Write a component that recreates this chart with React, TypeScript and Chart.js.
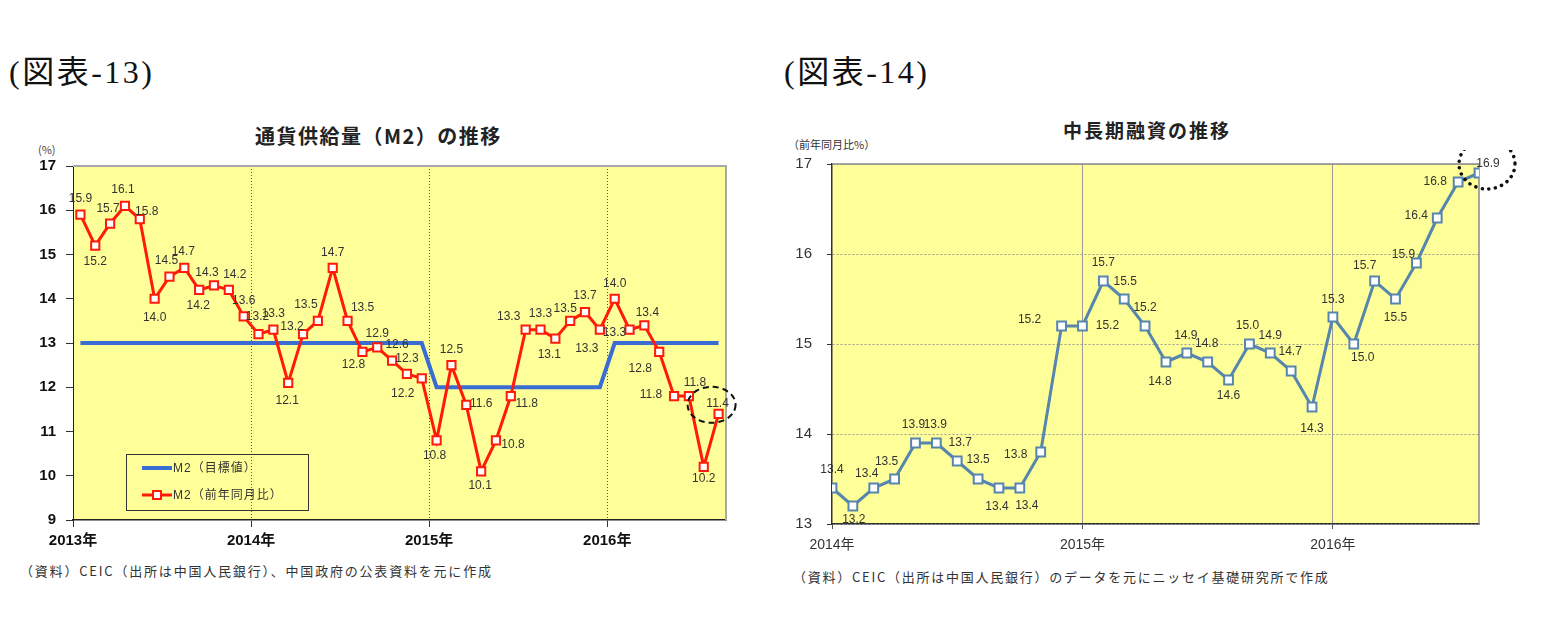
import React, { useEffect, useRef } from "react";
import { Chart, registerables } from "chart.js";

Chart.register(...registerables);

// ---------- 図表-13 通貨供給量（M2）の推移 : monthly 2013/1 – 2016/8 ----------
const m2Years = ["2013年", "2014年", "2015年", "2016年"];
const m2Growth = [
  15.9, 15.2, 15.7, 16.1, 15.8, 14.0, 14.5, 14.7, 14.2, 14.3, 14.2, 13.6,
  13.2, 13.3, 12.1, 13.2, 13.5, 14.7, 13.5, 12.8, 12.9, 12.6, 12.3, 12.2,
  10.8, 12.5, 11.6, 10.1, 10.8, 11.8, 13.3, 13.3, 13.1, 13.5, 13.7, 13.3,
  14.0, 13.3, 13.4, 12.8, 11.8, 11.8, 10.2, 11.4,
];
const m2Target = [
  13, 13, 13, 13, 13, 13, 13, 13, 13, 13, 13, 13,
  13, 13, 13, 13, 13, 13, 13, 13, 13, 13, 13, 13,
  12, 12, 12, 12, 12, 12, 12, 12, 12, 12, 12, 12,
  13, 13, 13, 13, 13, 13, 13, 13,
];
// value-label placement (dx, dy from the marker), kept apart from the values
const m2LabelOffsets: [number, number][] = [
  [0, -16], [0, 16], [-2, -15], [-2, -16], [7, -7], [0, 19], [-3, -16], [-1, -16], [-1, 16], [-7, -13], [6, -15], [0, -16],
  [-1, -17], [0, -16], [-1, 18], [-11, -7], [-12, -16], [0, -15], [15, -13], [-9, 13], [0, -14], [5, -16], [0, -15], [-19, 15],
  [-2, 15], [0, -15], [15, -1], [-1, 14], [17, 4], [16, 8], [-17, -13], [0, -16], [-6, 16], [-5, -12], [0, -16], [-13, 19],
  [0, -15], [-15, 3], [3, -13], [-19, 17], [-23, -1], [6, -13], [0, 12], [-1, -10],
];
const m2LegendLabels = ["M2（目標値）", "M2（前年同月比）"];

// ---------- 図表-14 中長期融資の推移 : monthly 2014/1 – 2016/8 ----------
const loanYears = ["2014年", "2015年", "2016年"];
const loanGrowth = [
  13.4, 13.2, 13.4, 13.5, 13.9, 13.9, 13.7, 13.5, 13.4, 13.4, 13.8, 15.2,
  15.2, 15.7, 15.5, 15.2, 14.8, 14.9, 14.8, 14.6, 15.0, 14.9, 14.7, 14.3,
  15.3, 15.0, 15.7, 15.5, 15.9, 16.4, 16.8, 16.9,
];
const loanLabelOffsets: [number, number][] = [
  [0, -18], [1, 14], [-7, -14], [-8, -17], [-2, -18], [-1, -18], [3, -18], [0, -19], [-2, 19], [7, 18], [-25, 3], [-32, -6],
  [25, 0], [0, -18], [1, -17], [0, -18], [-6, 20], [-1, -17], [-1, -18], [0, 16], [-2, -18], [0, -17], [-1, -19], [0, 22],
  [0, -17], [9, 14], [-10, -15], [0, 19], [-13, -8], [-21, -2], [-23, 0], [9, -9],
];

// ---------- styles ----------
const YELLOW = "#FFFF99";
const RED = "#FF1A0A";
const BLUE = "#3A6DD4";
const STEEL = "#5685AD";
const SANS = '"Liberation Sans", "Noto Sans CJK JP", sans-serif';
const JP = '"Noto Sans CJK JP", "Liberation Sans", sans-serif';

const plotFrame = (bg: string, frame: string, frameWidth: number) => ({
  id: "plotFrame",
  beforeDraw(chart: any) {
    const { ctx, chartArea: a } = chart;
    ctx.save();
    ctx.fillStyle = bg;
    ctx.fillRect(a.left, a.top, a.right - a.left, a.bottom - a.top);
    ctx.restore();
  },
  beforeDatasetsDraw(chart: any) {
    const { ctx, chartArea: a } = chart;
    ctx.save();
    ctx.strokeStyle = frame;
    ctx.lineWidth = frameWidth;
    ctx.beginPath();
    ctx.moveTo(a.left, a.top);
    ctx.lineTo(a.right, a.top);
    ctx.lineTo(a.right, a.bottom);
    ctx.stroke();
    ctx.restore();
  },
});

const valueLabels = (datasetIndex: number, offsets: [number, number][], font: string, color: string) => ({
  id: "valueLabels",
  afterDatasetsDraw(chart: any) {
    const { ctx } = chart;
    const meta = chart.getDatasetMeta(datasetIndex);
    const data = chart.data.datasets[datasetIndex].data;
    ctx.save();
    ctx.font = font;
    ctx.fillStyle = color;
    ctx.textAlign = "center";
    ctx.textBaseline = "middle";
    meta.data.forEach((el: any, i: number) => {
      const [dx, dy] = offsets[i] || [0, -15];
      ctx.fillText(Number(data[i].y).toFixed(1), el.x + dx, el.y + dy);
    });
    ctx.restore();
  },
});

const highlightLast = (
  datasetIndex: number,
  dx: number,
  dy: number,
  rx: number,
  ry: number,
  dash: number[],
  width: number,
  cap: CanvasLineCap
) => ({
  id: "highlightLast",
  afterDatasetsDraw(chart: any) {
    const { ctx } = chart;
    const meta = chart.getDatasetMeta(datasetIndex);
    const el = meta.data[meta.data.length - 1];
    ctx.save();
    ctx.strokeStyle = "#111";
    ctx.lineWidth = width;
    ctx.lineCap = cap;
    ctx.setLineDash(dash);
    ctx.beginPath();
    ctx.ellipse(el.x + dx, el.y + dy, rx, ry, 0, 0, Math.PI * 2);
    ctx.stroke();
    ctx.restore();
  },
});

const boxLegend = {
  id: "boxLegend",
  afterDatasetsDraw(chart: any) {
    const { ctx, chartArea: a } = chart;
    const x = a.left + 53;
    const y = a.bottom - 66;
    const w = 182;
    const h = 56;
    ctx.save();
    ctx.strokeStyle = "#333";
    ctx.lineWidth = 1;
    ctx.strokeRect(x + 0.5, y + 0.5, w, h);
    const y1 = y + 14;
    const y2 = y + 41;
    ctx.strokeStyle = BLUE;
    ctx.lineWidth = 4;
    ctx.beginPath();
    ctx.moveTo(x + 16, y1);
    ctx.lineTo(x + 46, y1);
    ctx.stroke();
    ctx.strokeStyle = RED;
    ctx.lineWidth = 3;
    ctx.beginPath();
    ctx.moveTo(x + 16, y2);
    ctx.lineTo(x + 46, y2);
    ctx.stroke();
    ctx.fillStyle = "#fff";
    ctx.lineWidth = 2;
    ctx.fillRect(x + 27, y2 - 4, 8, 8);
    ctx.strokeRect(x + 27, y2 - 4, 8, 8);
    ctx.fillStyle = "#333";
    ctx.font = `12px ${SANS}`;
    ctx.textBaseline = "middle";
    ctx.textAlign = "left";
    (ctx as any).letterSpacing = "1px";
    ctx.fillText(m2LegendLabels[0], x + 47, y1 + 1);
    ctx.fillText(m2LegendLabels[1], x + 47, y2 + 1);
    ctx.restore();
  },
};

const noScalePadding = (s: any) => {
  s.paddingTop = 0;
  s.paddingBottom = 0;
  s.paddingLeft = 0;
  s.paddingRight = 0;
};

function ChartCanvas({ left, top, width, height, build }: { left: number; top: number; width: number; height: number; build: () => any }) {
  const ref = useRef<HTMLCanvasElement | null>(null);
  useEffect(() => {
    if (!ref.current) return;
    const chart = new Chart(ref.current, build());
    return () => chart.destroy();
  }, []);
  return (
    <canvas
      ref={ref}
      width={width}
      height={height}
      style={{ position: "absolute", left, top, width, height }}
    />
  );
}

function buildM2() {
  const growth = m2Growth.map((v, i) => ({ x: i + 0.5, y: v }));
  const target = m2Target.map((v, i) => ({ x: i + 0.5, y: v }));
  return {
    type: "line",
    data: {
      datasets: [
        {
          label: m2LegendLabels[1],
          data: growth,
          borderColor: RED,
          borderWidth: 3,
          pointStyle: "rect",
          pointRadius: 5.8,
          pointBackgroundColor: "#fff",
          pointBorderColor: RED,
          pointBorderWidth: 2,
          tension: 0,
        },
        {
          label: m2LegendLabels[0],
          data: target,
          borderColor: BLUE,
          borderWidth: 4,
          pointRadius: 0,
          tension: 0,
        },
      ],
    },
    options: {
      animation: false,
      responsive: false,
      devicePixelRatio: 1,
      layout: { padding: { left: 0, right: 14, top: 16, bottom: 0 } },
      plugins: { legend: { display: false }, tooltip: { enabled: false } },
      scales: {
        x: {
          type: "linear",
          min: 0,
          max: m2Growth.length,
          afterBuildTicks: (s: any) => {
            s.ticks = m2Years.map((_, i) => ({ value: i * 12 }));
          },
          afterFit: (s: any) => {
            s.height = 30;
            noScalePadding(s);
          },
          ticks: {
            autoSkip: false,
            maxRotation: 0,
            padding: 5,
            color: "#111",
            font: { size: 15, weight: "bold", family: SANS },
            callback: (_v: any, i: number) => m2Years[i],
          },
          grid: {
            color: (c: any) => (c.tick && c.tick.value === 0 ? "rgba(0,0,0,0)" : "#555"),
            lineWidth: 1,
            tickLength: 7,
            tickColor: "#333",
          },
          border: { color: "#222", width: 1.5, dash: [1, 2] },
        },
        y: {
          min: 9,
          max: 17,
          afterFit: (s: any) => {
            s.width = 73;
            noScalePadding(s);
          },
          ticks: {
            stepSize: 1,
            padding: 10,
            color: "#111",
            font: { size: 15, weight: "bold", family: SANS },
          },
          grid: { drawOnChartArea: false, tickLength: 7, tickColor: "#333" },
          border: { color: "#222", width: 1 },
        },
      },
    },
    plugins: [
      plotFrame(YELLOW, "#A8A8A8", 2),
      valueLabels(0, m2LabelOffsets, `12px ${SANS}`, "#333"),
      highlightLast(0, -7, -9, 24, 18, [6, 4], 2, "butt"),
      boxLegend,
    ],
  };
}

function buildLoan() {
  const growth = loanGrowth.map((v, i) => ({ x: i, y: v }));
  return {
    type: "line",
    data: {
      datasets: [
        {
          label: "中長期融資",
          data: growth,
          borderColor: STEEL,
          borderWidth: 3,
          pointStyle: "rect",
          pointRadius: 6.2,
          pointBackgroundColor: "#fff",
          pointBorderColor: STEEL,
          pointBorderWidth: 2,
          tension: 0,
        },
      ],
    },
    options: {
      animation: false,
      responsive: false,
      devicePixelRatio: 1,
      layout: { padding: { left: 0, right: 71, top: 14, bottom: 0 } },
      plugins: { legend: { display: false }, tooltip: { enabled: false } },
      scales: {
        x: {
          type: "linear",
          min: 0,
          max: loanGrowth.length - 1,
          afterBuildTicks: (s: any) => {
            s.ticks = loanYears.map((_, i) => ({ value: i * 12 }));
          },
          afterFit: (s: any) => {
            s.height = 36;
            noScalePadding(s);
          },
          ticks: {
            autoSkip: false,
            maxRotation: 0,
            padding: 8,
            color: "#333",
            font: { size: 14, family: SANS },
            callback: (_v: any, i: number) => loanYears[i],
          },
          grid: {
            color: (c: any) => (c.tick && c.tick.value === 0 ? "rgba(0,0,0,0)" : "#999"),
            lineWidth: 1,
            tickLength: 5,
            tickColor: "#555",
          },
          border: { color: "#333", width: 1.5 },
        },
        y: {
          min: 13,
          max: 17,
          afterFit: (s: any) => {
            s.width = 62;
            noScalePadding(s);
          },
          ticks: {
            stepSize: 1,
            padding: 15,
            color: "#333",
            font: { size: 15, family: SANS },
          },
          grid: { color: "#9A9A9A", lineWidth: 1, tickLength: 5, tickColor: "#333" },
          border: { color: "#333", width: 1.5, dash: [2, 2] },
        },
      },
    },
    plugins: [
      plotFrame(YELLOW, "#8A8A8A", 1.5),
      valueLabels(0, loanLabelOffsets, `12px ${SANS}`, "#333"),
      highlightLast(0, 8, -9, 28, 25, [0.1, 6.5], 3.5, "round"),
    ],
  };
}

const abs = (extra: React.CSSProperties): React.CSSProperties => ({
  position: "absolute",
  whiteSpace: "nowrap",
  lineHeight: 1,
  color: "#111",
  ...extra,
});

const SERIF = '"Liberation Serif", "Noto Sans CJK JP", serif';

export default function App() {
  return (
    <div
      style={{
        position: "absolute",
        left: 0,
        top: 0,
        width: 1552,
        height: 622,
        background: "#fff",
        overflow: "hidden",
      }}
    >
      <div style={abs({ left: 9, top: 56, fontSize: 32, letterSpacing: 2.5, fontFamily: SERIF })}>(図表-13)</div>
      <div style={abs({ left: 784, top: 56, fontSize: 32, letterSpacing: 2.5, fontFamily: SERIF })}>(図表-14)</div>

      <div style={abs({ left: 255, top: 126, fontSize: 20, fontWeight: "bold", letterSpacing: 1.5, fontFamily: JP, color: "#222" })}>
        通貨供給量（M2）の推移
      </div>
      <div style={abs({ left: 38, top: 144, fontSize: 11, fontFamily: JP, color: "#444" })}>(%)</div>

      <div style={abs({ left: 1063, top: 120, fontSize: 19, fontWeight: "bold", letterSpacing: 2, fontFamily: JP, color: "#222" })}>
        中長期融資の推移
      </div>
      <div style={abs({ left: 788, top: 139, fontSize: 11, fontFamily: JP, color: "#333" })}>（前年同月比%）</div>

      <ChartCanvas left={0} top={150} width={740} height={400} build={buildM2} />
      <ChartCanvas left={770} top={150} width={780} height={410} build={buildLoan} />

      <div style={abs({ left: 20, top: 564, fontSize: 13, letterSpacing: 1.8, fontFamily: JP, color: "#333" })}>
        （資料）CEIC（出所は中国人民銀行）、中国政府の公表資料を元に作成
      </div>
      <div style={abs({ left: 793, top: 570, fontSize: 13, letterSpacing: 1.75, fontFamily: JP, color: "#333" })}>
        （資料）CEIC（出所は中国人民銀行）のデータを元にニッセイ基礎研究所で作成
      </div>
    </div>
  );
}
